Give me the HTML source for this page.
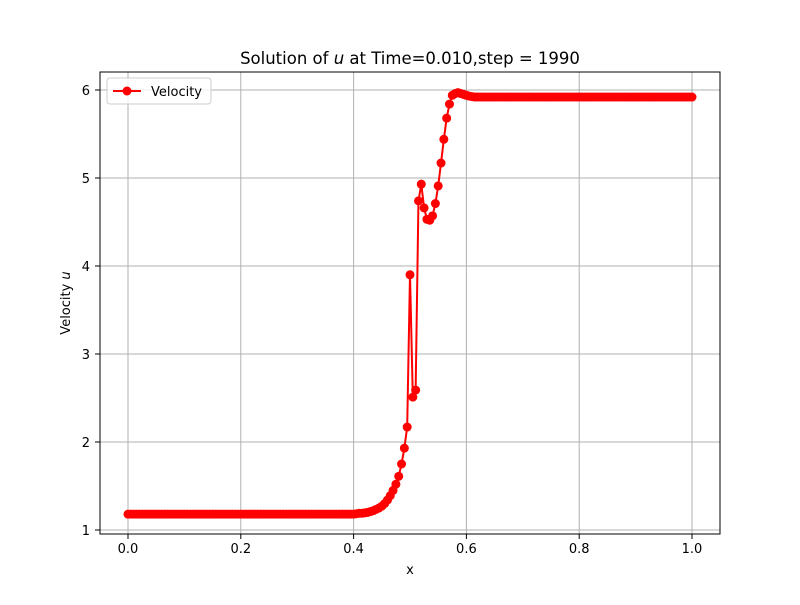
<!DOCTYPE html>
<html><head><meta charset="utf-8"><style>
body{margin:0;background:#fff}
text{font-family:"DejaVu Sans","Liberation Sans",sans-serif;fill:#000}
</style></head><body>
<svg id="chart" width="800" height="600" xmlns="http://www.w3.org/2000/svg">
<rect width="800" height="600" fill="#fff"/>
<g id="grid"></g>
<g id="series"></g>
<rect x="100" y="72" width="620" height="462" fill="none" stroke="#000" stroke-width="1"/>
<g id="ticks"></g>
<text x="410" y="64" font-size="16.5" text-anchor="middle">Solution of <tspan font-style="italic">u</tspan> at Time=0.010,step = 1990</text>
<text x="410" y="574" font-size="13" text-anchor="middle">x</text>
<text transform="translate(70,303) rotate(-90)" font-size="13" text-anchor="middle">Velocity <tspan font-style="italic">u</tspan></text>
<g>
<rect x="107" y="78" width="104" height="26" rx="3" fill="#fff" fill-opacity="0.8" stroke="#ccc"/>
<line x1="113" y1="91" x2="141" y2="91" stroke="red" stroke-width="2"/>
<circle cx="127" cy="91" r="4.5" fill="red"/>
<text x="151" y="96" font-size="13">Velocity</text>
</g>
</svg>
<script>
const xTicks=[0,0.2,0.4,0.6,0.8,1.0];
const xTickLabels=["0.0","0.2","0.4","0.6","0.8","1.0"];
const yTicks=[1,2,3,4,5,6];
const yTickLabels=["1","2","3","4","5","6"];
const leftVals=Array(80).fill(1.18);
const midVals=[1.18,1.185,1.19,1.19,1.195,1.20,1.21,1.22,1.235,1.25,1.27,1.30,1.34,1.39,1.45,1.52,1.61,1.75,1.93,2.17,3.9,2.51,2.59,4.74,4.93,4.66,4.53,4.52,4.57,4.71,4.91,5.17,5.44,5.68,5.84,5.94,5.96,5.97,5.96,5.95,5.94,5.93,5.925,5.92];
const rightVals=Array(77).fill(5.92);
const uVals=leftVals.concat(midVals,rightVals);
const xVals=uVals.map((_,i)=>i/(uVals.length-1));
const X=v=>128+v*564, Y=v=>530-(v-1)*88;
const NS="http://www.w3.org/2000/svg";
const grid=document.getElementById('grid'),ticks=document.getElementById('ticks'),ser=document.getElementById('series');
function mk(tag,attrs,parent){const e=document.createElementNS(NS,tag);for(const k in attrs)e.setAttribute(k,attrs[k]);parent.appendChild(e);return e;}
xTicks.forEach((t,i)=>{
 const g=mk('line',{x1:X(t),x2:X(t),y1:72,y2:534,stroke:'#b0b0b0','stroke-width':1},grid);
 
 
 mk('line',{x1:X(t),x2:X(t),y1:534,y2:539,stroke:'#000'},ticks);
 const l=mk('text',{x:X(t),y:553,'font-size':13,'text-anchor':'middle'},ticks);l.textContent=xTickLabels[i];
 
 
});
yTicks.forEach((t,i)=>{
 const g=mk('line',{x1:100,x2:720,y1:Y(t),y2:Y(t),stroke:'#b0b0b0','stroke-width':1},grid);
 
 
 mk('line',{x1:95,x2:100,y1:Y(t),y2:Y(t),stroke:'#000'},ticks);
 const l=mk('text',{x:90,y:Y(t)+5,'font-size':13,'text-anchor':'end'},ticks);l.textContent=yTickLabels[i];
 
 
});
const p=mk('polyline',{points:uVals.map((v,i)=>X(xVals[i])+','+Y(v)).join(' '),fill:'none',stroke:'red','stroke-width':2},ser);


uVals.forEach((v,i)=>{
 const c=mk('circle',{cx:X(xVals[i]),cy:Y(v),r:4.5,fill:'red'},ser);
 
 
});
</script>
</body></html>
